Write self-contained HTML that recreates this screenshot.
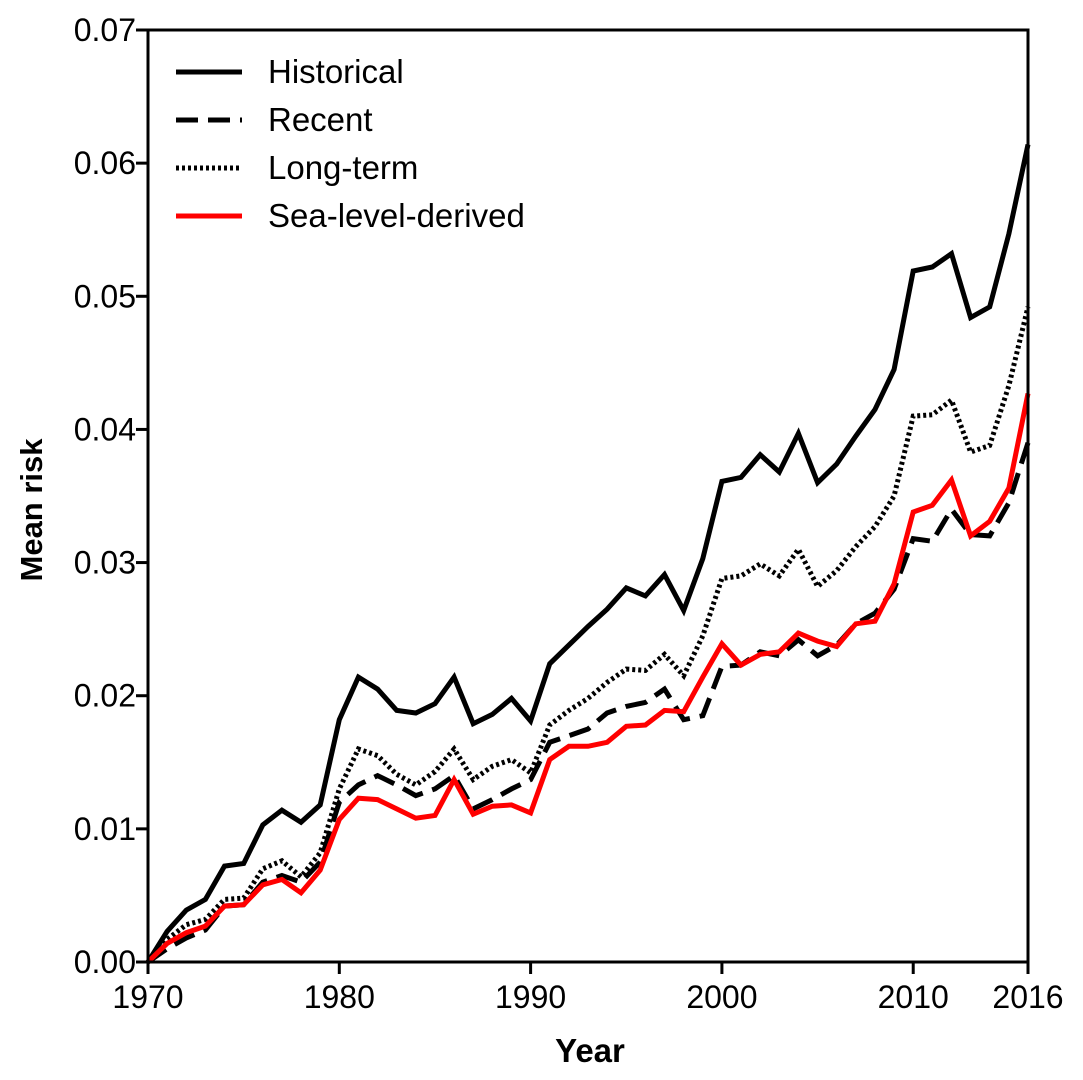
<!DOCTYPE html>
<html><head><meta charset="utf-8"><style>
html,body{margin:0;padding:0;background:#fff;}
svg{display:block;font-family:"Liberation Sans",Arial,sans-serif;}
</style></head><body>
<svg id="chart" width="1083" height="1080" viewBox="0 0 1083 1080"></svg>
<script>
const years = [];
for (let y = 1970; y <= 2016; y++) years.push(y);
const historical = [0,.0023,.0039,.0047,.0072,.0074,.0103,.0114,.0105,.0118,.0182,.0214,.0205,.0189,.0187,.0194,.0214,.0179,.0186,.0198,.0181,.0224,.0238,.0252,.0265,.0281,.0275,.0291,.0264,.0303,.0361,.0364,.0381,.0368,.0397,.0360,.0374,.0395,.0415,.0445,.0519,.0522,.0532,.0484,.0492,.0547,.0614];
const recent = [0,.0010,.0018,.0024,.0042,.0043,.0060,.0065,.0060,.0075,.0120,.0133,.0140,.0133,.0125,.0130,.0140,.0115,.0122,.0130,.0137,.0165,.0170,.0175,.0187,.0192,.0195,.0205,.0182,.0185,.0222,.0223,.0233,.0230,.0242,.0230,.0238,.0254,.0262,.0280,.0318,.0316,.0340,.0321,.0320,.0345,.0390];
const longTerm = [0,.0017,.0028,.0032,.0047,.0048,.0070,.0076,.0064,.0082,.0130,.0160,.0155,.0141,.0133,.0143,.0160,.0137,.0147,.0152,.0142,.0178,.0189,.0198,.0210,.0220,.0219,.0231,.0215,.0245,.0288,.0290,.0299,.0290,.0310,.0282,.0294,.0312,.0327,.0350,.0410,.0411,.0422,.0383,.0388,.0433,.0492];
const seaLevel = [0,.0014,.0022,.0027,.0042,.0043,.0058,.0062,.0052,.0069,.0107,.0123,.0122,.0115,.0108,.0110,.0137,.0111,.0117,.0118,.0112,.0152,.0162,.0162,.0165,.0177,.0178,.0189,.0188,.0214,.0239,.0223,.0231,.0233,.0247,.0241,.0237,.0254,.0256,.0284,.0338,.0343,.0362,.0320,.0331,.0356,.0427];
const yTicks = [0,0.01,0.02,0.03,0.04,0.05,0.06,0.07];
const yTickLabels = ["0.00","0.01","0.02","0.03","0.04","0.05","0.06","0.07"];
const xTicks = [1970,1980,1990,2000,2010,2016];

const X0=148,X1=1028,Y0=962,Y1=30;
const xs = v => X0 + (v-1970)/(2016-1970)*(X1-X0);
const ys = v => Y0 - v/0.07*(Y0-Y1);
const svg = document.getElementById('chart');
const NS='http://www.w3.org/2000/svg';
function mk(tag, attrs, parent){const e=document.createElementNS(NS,tag);for(const k in attrs)e.setAttribute(k,attrs[k]);(parent||svg).appendChild(e);return e;}

function series(vals, stroke, dash, name){
  const d = vals.map((v,i)=>(i?'L':'M')+xs(years[i]).toFixed(1)+','+ys(v).toFixed(1)).join(' ');
  const p = mk('path',{d:d,fill:'none',stroke:stroke,'stroke-width':5,'stroke-linejoin':'miter','stroke-dasharray':dash||'none'});
  
  
}
series(longTerm,'#000','3,3','long-term-line');
series(recent,'#000','22,10','recent-line');
series(historical,'#000',null,'historical-line');
series(seaLevel,'#ff0000',null,'sea-level-derived-line');

const ax = mk('path',{d:`M${X0},${Y1-1} L${X0},${Y0} L${X1},${Y0} L${X1},${Y1} L${X0},${Y1}`,fill:'none',stroke:'#000','stroke-width':3});



yTicks.forEach((t,i)=>{
  const y=ys(t);
  const tk = mk('line',{x1:X0-12,x2:X0,y1:y,y2:y,stroke:'#000','stroke-width':3});
  
  
  const lb = mk('text',{x:X0-12,y:y+11,'text-anchor':'end','font-size':32});
  lb.textContent=yTickLabels[i];
  
  
});
xTicks.forEach(t=>{
  const x=xs(t);
  const tk = mk('line',{x1:x,x2:x,y1:Y0,y2:Y0+12,stroke:'#000','stroke-width':3});
  
  
  const lb = mk('text',{x:x,y:Y0+46,'text-anchor':'middle','font-size':32});
  lb.textContent=t;
  
  
});
const xt = mk('text',{x:590,y:1062,'text-anchor':'middle','font-size':33,'font-weight':'bold'});
xt.textContent='Year';


const yt = mk('text',{x:0,y:0,'text-anchor':'middle','font-size':31,'font-weight':'bold',transform:'translate(42,510) rotate(-90)'});
yt.textContent='Mean risk';



const legend=[['Historical','#000',null],['Recent','#000','22,10'],['Long-term','#000','3,3'],['Sea-level-derived','#ff0000',null]];
legend.forEach((l,i)=>{
  const y=72+i*48;
  const g=mk('g',{});
  
  
  mk('line',{x1:176,x2:242,y1:y,y2:y,stroke:l[1],'stroke-width':5,'stroke-dasharray':l[2]||'none'},g);
  const t=mk('text',{x:268,y:y+11,'font-size':33},g);
  t.textContent=l[0];
});
</script>
</body></html>
